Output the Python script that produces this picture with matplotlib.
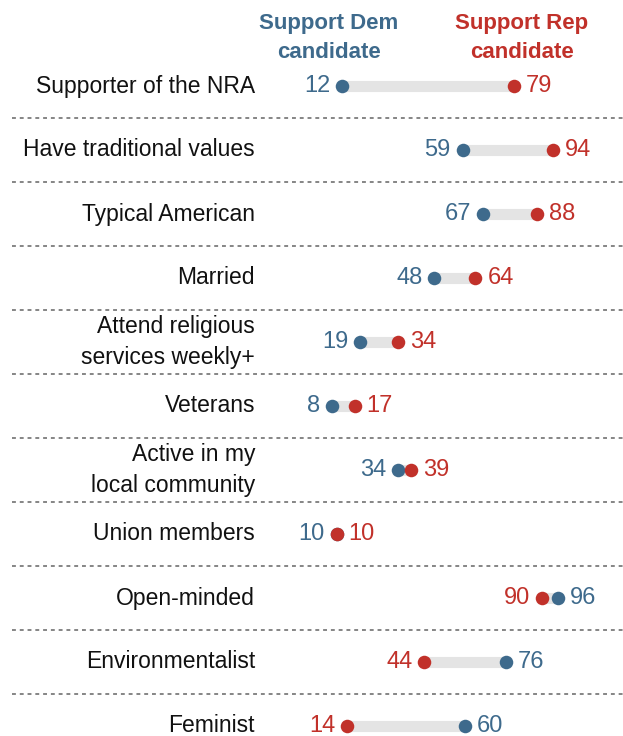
import matplotlib
matplotlib.use("Agg")
import matplotlib.pyplot as plt
from matplotlib import font_manager as fm

# rows, top to bottom
groups = ["Supporter of the NRA", "Have traditional values", "Typical American",
          "Married", "Attend religious\nservices weekly+", "Veterans",
          "Active in my\nlocal community", "Union members", "Open-minded",
          "Environmentalist", "Feminist"]
dem = [12, 59, 67, 48, 19, 8, 34, 10, 96, 76, 60]
rep = [79, 94, 88, 64, 34, 17, 39, 10, 90, 44, 14]

blue = "#3e6a8c"
red = "#c1312a"

names = {f.name for f in fm.fontManager.ttflist}
fam = "Liberation Sans Narrow" if "Liberation Sans Narrow" in names else "Liberation Sans"
plt.rcParams["font.family"] = [fam, "DejaVu Sans"]

W, H = 623, 736
fig = plt.figure(figsize=(W / 100, H / 100), dpi=100)
ax = fig.add_axes([0, 0, 1, 1])
ax.axis("off")

# pixel layout: value 0 at x=311, 2.57 px per point; row 0 at y=86, 64 px per row
x0, sx = 311, 2.57
y0, sy = 86, 64
ax.set_xlim(-x0 / sx, (W - x0) / sx)
ax.set_ylim((H - y0) / sy, -y0 / sy)

lab_x = (255 - x0) / sx
sep_l = (12 - x0) / sx
sep_r = (W - x0) / sx

for i, (g, d, r) in enumerate(zip(groups, dem, rep)):
    lo, hi = min(d, r), max(d, r)
    ax.plot([lo, hi], [i, i], color="#e4e4e4", lw=8, solid_capstyle="butt", zorder=1)
    ax.scatter([d], [i], s=95, color=blue, zorder=3, linewidths=0)
    ax.scatter([r], [i], s=95, color=red, zorder=4, linewidths=0)
    ax.text(lab_x, i, g, ha="right", va="center", fontsize=16.5,
            color="#111111", linespacing=1.45)
    # number labels: the smaller value on the left
    if d <= r:
        left, lc, right, rc = d, blue, r, red
    else:
        left, lc, right, rc = r, red, d, blue
    ax.annotate(str(left), (lo, i), xytext=(-8.5, 0), textcoords="offset points",
                ha="right", va="center", fontsize=17, color=lc)
    ax.annotate(str(right), (hi, i), xytext=(8.5, 0), textcoords="offset points",
                ha="left", va="center", fontsize=17, color=rc)
    if i < len(groups) - 1:
        ax.plot([sep_l, sep_r], [i + 0.5, i + 0.5], color="#858585", lw=1.4,
                ls=(0, (2, 2)), zorder=0)

hy = (38 - y0) / sy
ax.text((329 - x0) / sx, hy, "Support Dem\ncandidate", ha="center", va="center",
        fontsize=16, fontweight="bold", color=blue, linespacing=1.45)
ax.text((522 - x0) / sx, hy, "Support Rep\ncandidate", ha="center", va="center",
        fontsize=16, fontweight="bold", color=red, linespacing=1.45)

fig.savefig("out.png", dpi=100)
